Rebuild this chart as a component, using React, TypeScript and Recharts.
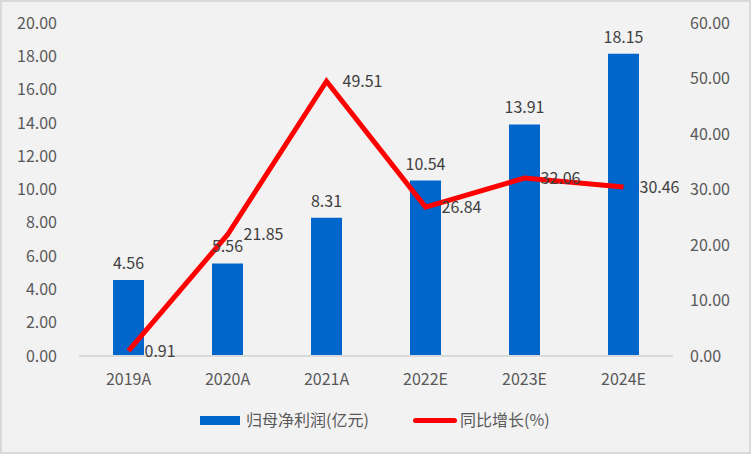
import React from 'react';
import { ComposedChart, Bar, Line, XAxis, YAxis, LabelList, Legend } from 'recharts';

const categories = ['2019A', '2020A', '2021A', '2022E', '2023E', '2024E'];
const profit = [4.56, 5.56, 8.31, 10.54, 13.91, 18.15];
const growth = [0.91, 21.85, 49.51, 26.84, 32.06, 30.46];
const leftTicks = [0, 2, 4, 6, 8, 10, 12, 14, 16, 18, 20];
const rightTicks = [0, 10, 20, 30, 40, 50, 60];

const data = categories.map((c, i) => ({ name: c, profit: profit[i], growth: growth[i] }));

const FONT = '"Noto Sans CJK SC", "Noto Sans", sans-serif';
const TXT = '#595959';

const LegendContent = () => (
  <div style={{ position: 'relative', width: 751, height: 20, fontFamily: FONT, fontSize: 16, color: TXT }}>
    <div style={{ position: 'absolute', left: 200, top: 6, width: 40, height: 9, background: '#0066CC' }} />
    <span style={{ position: 'absolute', left: 246, top: -3, whiteSpace: 'nowrap' }}>归母净利润(亿元)</span>
    <div style={{ position: 'absolute', left: 413, top: 8, width: 44, height: 5, background: '#FF0000', borderRadius: 3 }} />
    <span style={{ position: 'absolute', left: 460, top: -3, whiteSpace: 'nowrap' }}>同比增长(%)</span>
  </div>
);

export default function App() {
  return (
    <div
      style={{
        position: 'absolute',
        left: 0,
        top: 0,
        width: 751,
        height: 454,
        background: '#F2F2F2',
        border: '2px solid #D9D9D9',
        boxSizing: 'border-box',
        overflow: 'hidden',
      }}
    >
      <div style={{ position: 'absolute', left: -2, top: -2 }}>
        <ComposedChart
          width={751}
          height={454}
          data={data}
          margin={{ top: 23, right: 0, bottom: 58, left: 0 }}
          barCategoryGap={0}
        >
          <XAxis
            dataKey="name"
            tickLine={false}
            axisLine={{ stroke: '#D9D9D9', strokeWidth: 2 }}
            tick={{ fill: TXT, fontSize: 16, fontFamily: FONT }}
            tickSize={0}
            tickMargin={18}
            height={40}
          />
          <YAxis
            yAxisId="left"
            domain={[0, 20]}
            ticks={leftTicks}
            interval={0}
            tickFormatter={(v: number) => v.toFixed(2)}
            axisLine={false}
            tickLine={false}
            tickSize={0}
            tickMargin={22}
            width={79}
            tick={{ fill: TXT, fontSize: 16, fontFamily: FONT }}
          />
          <YAxis
            yAxisId="right"
            orientation="right"
            domain={[0, 60]}
            ticks={rightTicks}
            interval={0}
            tickFormatter={(v: number) => v.toFixed(2)}
            axisLine={false}
            tickLine={false}
            tickSize={0}
            tickMargin={17}
            width={78}
            tick={{ fill: TXT, fontSize: 16, fontFamily: FONT, textAnchor: 'start' }}
          />
          <Legend
            verticalAlign="middle"
            align="center"
            layout="horizontal"
            content={<LegendContent />}
            wrapperStyle={{ top: 410, left: 0, width: 751 }}
          />
          <Bar yAxisId="left" dataKey="profit" fill="#0066CC" barSize={31} isAnimationActive={false}>
            <LabelList
              dataKey="profit"
              position="top"
              offset={11}
              formatter={(v: number) => v.toFixed(2)}
              style={{ fill: '#404040', fontSize: 16, fontFamily: FONT }}
            />
          </Bar>
          <Line
            yAxisId="right"
            dataKey="growth"
            stroke="#FF0000"
            strokeWidth={5}
            dot={false}
            activeDot={false}
            isAnimationActive={false}
          >
            <LabelList
              dataKey="growth"
              position="right"
              offset={16}
              formatter={(v: number) => v.toFixed(2)}
              style={{ fill: '#404040', fontSize: 16, fontFamily: FONT }}
            />
          </Line>
        </ComposedChart>
      </div>
    </div>
  );
}
